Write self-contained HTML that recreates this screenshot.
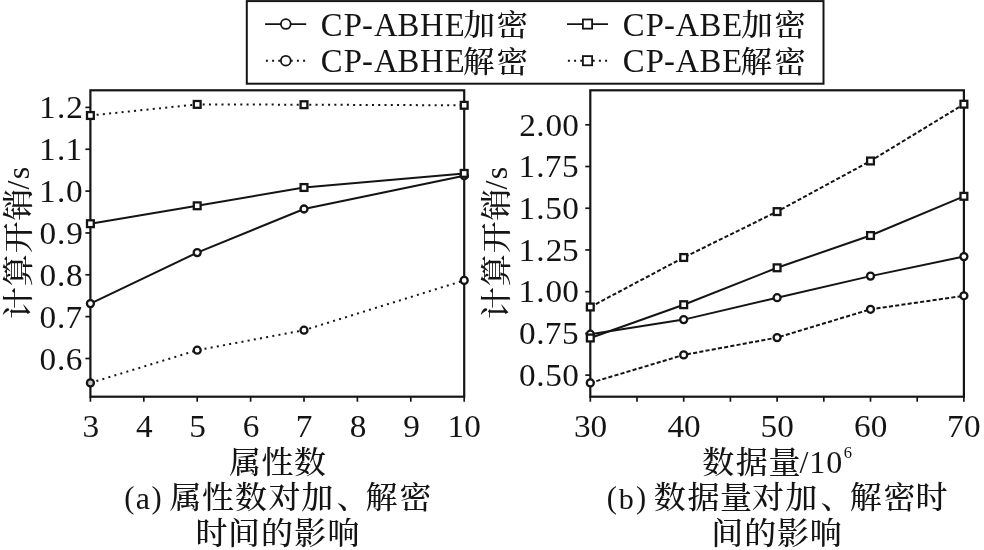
<!DOCTYPE html>
<html lang="zh-CN">
<head>
<meta charset="utf-8">
<title>计算开销</title>
<style>
html,body{margin:0;padding:0;background:#fff;}
body{width:984px;height:550px;overflow:hidden;}
svg{display:block;font-family:'Liberation Serif','Noto Serif CJK SC',serif;}
svg text{fill:#141414;stroke:none;font-weight:500;}
</style>
</head>
<body>
<svg width="984" height="550" viewBox="0 0 984 550" stroke="#141414" fill="#141414">
<rect x="0" y="0" width="984" height="550" fill="#fff" stroke="none"/>
<g id="legend">
<rect x="246.8" y="1.1" width="576.7" height="82.6" fill="#fff" stroke-width="2"/>
<line x1="265.1" y1="24.05" x2="306.2" y2="24.05" stroke-width="1.8"/>
<circle cx="285.8" cy="24.05" r="4.9" fill="#fff" stroke-width="1.8"/>
<g><text y="35.6"><tspan x="320.78 343.69 362.04 373.95 397.47 420 444.66" font-size="32.7">CP-ABHE</tspan></text><text transform="translate(0,35.3) scale(1.0,0.945)" y="0"><tspan x="463.53 496.47" font-size="31.6">加密</tspan></text></g>
<line x1="567" y1="24.05" x2="608" y2="24.05" stroke-width="1.8"/>
<rect x="582.9" y="19.45" width="9.2" height="9.2" fill="#fff" stroke-width="1.8"/>
<g><text y="35.6"><tspan x="622.83 645.69 664.09 675.45 699.47 722.31" font-size="32.7">CP-ABE</tspan></text><text transform="translate(0,35.3) scale(1.0,0.945)" y="0"><tspan x="741.18 774.37" font-size="31.6">加密</tspan></text></g>
<line x1="265.9" y1="60.7" x2="306" y2="60.7" stroke-width="2" stroke-dasharray="2 4.2"/>
<circle cx="285.8" cy="60.7" r="4.9" fill="#fff" stroke-width="1.8"/>
<g><text y="72"><tspan x="320.78 343.69 362.04 373.95 397.47 420 444.66" font-size="32.7">CP-ABHE</tspan></text><text transform="translate(0,71.8) scale(1.0,0.945)" y="0"><tspan x="462.88 496.47" font-size="31.6">解密</tspan></text></g>
<line x1="567.9" y1="60.7" x2="608" y2="60.7" stroke-width="2" stroke-dasharray="2 4.2"/>
<rect x="582.9" y="56.1" width="9.2" height="9.2" fill="#fff" stroke-width="1.8"/>
<g><text y="72"><tspan x="622.83 645.69 664.09 675.45 699.47 722.31" font-size="32.7">CP-ABE</tspan></text><text transform="translate(0,71.8) scale(1.0,0.945)" y="0"><tspan x="740.53 774.37" font-size="31.6">解密</tspan></text></g>
</g>
<g id="plotA">
<line x1="90.4" y1="396.7" x2="90.4" y2="401.7" stroke-width="1.7"/>
<line x1="143.8" y1="396.7" x2="143.8" y2="401.7" stroke-width="1.7"/>
<line x1="197.2" y1="396.7" x2="197.2" y2="401.7" stroke-width="1.7"/>
<line x1="250.6" y1="396.7" x2="250.6" y2="401.7" stroke-width="1.7"/>
<line x1="304" y1="396.7" x2="304" y2="401.7" stroke-width="1.7"/>
<line x1="357.4" y1="396.7" x2="357.4" y2="401.7" stroke-width="1.7"/>
<line x1="410.8" y1="396.7" x2="410.8" y2="401.7" stroke-width="1.7"/>
<line x1="464.2" y1="396.7" x2="464.2" y2="401.7" stroke-width="1.7"/>
<line x1="85.4" y1="107.4" x2="90.4" y2="107.4" stroke-width="1.7"/>
<line x1="85.4" y1="149.25" x2="90.4" y2="149.25" stroke-width="1.7"/>
<line x1="85.4" y1="191.1" x2="90.4" y2="191.1" stroke-width="1.7"/>
<line x1="85.4" y1="232.95" x2="90.4" y2="232.95" stroke-width="1.7"/>
<line x1="85.4" y1="274.8" x2="90.4" y2="274.8" stroke-width="1.7"/>
<line x1="85.4" y1="316.65" x2="90.4" y2="316.65" stroke-width="1.7"/>
<line x1="85.4" y1="358.5" x2="90.4" y2="358.5" stroke-width="1.7"/>
<rect x="90.4" y="90.3" width="373.8" height="306.4" fill="none" stroke-width="2.2"/>
<polyline points="90.4,382.9 197.2,350.2 304,330.2 464.2,280.4" fill="none" stroke-width="2" stroke-dasharray="2 4.27" stroke-dashoffset="0"/>
<circle cx="90.4" cy="382.9" r="3.5" fill="#c8c8c8" stroke-width="2.3"/>
<circle cx="197.2" cy="350.2" r="3.5" fill="#fff" stroke-width="2.3"/>
<circle cx="304" cy="330.2" r="3.5" fill="#fff" stroke-width="2.3"/>
<circle cx="464.2" cy="280.4" r="3.5" fill="#fff" stroke-width="2.3"/>
<polyline points="90.4,303.6 197.2,252.6 304,209 464.2,175.8" fill="none" stroke-width="2"/>
<circle cx="90.4" cy="303.6" r="3.5" fill="#fff" stroke-width="2.3"/>
<circle cx="197.2" cy="252.6" r="3.5" fill="#fff" stroke-width="2.3"/>
<circle cx="304" cy="209" r="3.5" fill="#fff" stroke-width="2.3"/>
<circle cx="464.2" cy="175.8" r="3.5" fill="#fff" stroke-width="2.3"/>
<polyline points="90.4,223.7 197.2,205.8 304,187.5 464.2,173.4" fill="none" stroke-width="2"/>
<rect x="87" y="220.3" width="6.8" height="6.8" fill="#fff" stroke-width="2.3"/>
<rect x="193.8" y="202.4" width="6.8" height="6.8" fill="#fff" stroke-width="2.3"/>
<rect x="300.6" y="184.1" width="6.8" height="6.8" fill="#fff" stroke-width="2.3"/>
<rect x="460.8" y="170" width="6.8" height="6.8" fill="#fff" stroke-width="2.3"/>
<polyline points="90.4,115.5 197.2,104.4 304,104.7 464.2,105.3" fill="none" stroke-width="2" stroke-dasharray="2 4.27" stroke-dashoffset="0"/>
<rect x="87" y="112.1" width="6.8" height="6.8" fill="#fff" stroke-width="2.3"/>
<rect x="193.8" y="101" width="6.8" height="6.8" fill="#fff" stroke-width="2.3"/>
<rect x="300.6" y="101.3" width="6.8" height="6.8" fill="#fff" stroke-width="2.3"/>
<rect x="460.8" y="101.9" width="6.8" height="6.8" fill="#fff" stroke-width="2.3"/>
<text transform="translate(0,118.4) scale(1.04,1.0)" y="0"><tspan x="37.61 54.75 63.72" font-size="32">1.2</tspan></text>
<text transform="translate(0,160.25) scale(1.04,1.0)" y="0"><tspan x="37.61 54.75 63.09" font-size="32">1.1</tspan></text>
<text transform="translate(0,202.1) scale(1.04,1.0)" y="0"><tspan x="37.61 54.75 63.54" font-size="32">1.0</tspan></text>
<text transform="translate(0,243.95) scale(1.04,1.0)" y="0"><tspan x="38.06 54.75 63.68" font-size="32">0.9</tspan></text>
<text transform="translate(0,285.8) scale(1.04,1.0)" y="0"><tspan x="38.06 54.75 63.54" font-size="32">0.8</tspan></text>
<text transform="translate(0,327.65) scale(1.04,1.0)" y="0"><tspan x="38.06 54.75 62.94" font-size="32">0.7</tspan></text>
<text transform="translate(0,369.5) scale(1.04,1.0)" y="0"><tspan x="38.06 54.75 63.33" font-size="32">0.6</tspan></text>
<text transform="translate(0,436.7) scale(1.04,1.0)" y="0"><tspan x="79.36" font-size="32">3</tspan></text>
<text transform="translate(0,436.7) scale(1.04,1.0)" y="0"><tspan x="130.78" font-size="32">4</tspan></text>
<text transform="translate(0,436.7) scale(1.04,1.0)" y="0"><tspan x="181.89" font-size="32">5</tspan></text>
<text transform="translate(0,436.7) scale(1.04,1.0)" y="0"><tspan x="233.33" font-size="32">6</tspan></text>
<text transform="translate(0,436.7) scale(1.04,1.0)" y="0"><tspan x="284.29" font-size="32">7</tspan></text>
<text transform="translate(0,436.7) scale(1.04,1.0)" y="0"><tspan x="336.23" font-size="32">8</tspan></text>
<text transform="translate(0,436.7) scale(1.04,1.0)" y="0"><tspan x="387.72" font-size="32">9</tspan></text>
<text transform="translate(0,436.7) scale(1.04,1.0)" y="0"><tspan x="430.3 446.52" font-size="32">10</tspan></text>
<text transform="translate(29,243) rotate(-90) scale(1,0.96)" y="0"><tspan x="-76 -43.15 -10.3 22.55" font-size="32">计算开销</tspan><tspan x="53.5 63.8" font-size="32">/s</tspan></text>
<text transform="translate(0,473) scale(1.0,0.975)" y="0"><tspan x="228.9 261.5 294.1" font-size="32">属性数</tspan></text>
<g><text y="508.8"><tspan x="124.24" dy="-1.2" font-size="30.5">(</tspan><tspan x="135.65" dy="1.2" font-size="32">a</tspan><tspan x="151.4" dy="-1.2" font-size="30.5">)</tspan></text><text transform="translate(0,508) scale(1.0,0.975)" y="0"><tspan x="169.4 202.1 235 268.6 301.2 336.4 365.5 399.4" font-size="32">属性数对加、解密</tspan></text></g>
<text transform="translate(0,543.8) scale(1.0,0.975)" y="0"><tspan x="195.6 227.9 261.1 294.3 327.5" font-size="32">时间的影响</tspan></text>
</g>
<g id="plotB">
<line x1="590.3" y1="396.7" x2="590.3" y2="401.7" stroke-width="1.7"/>
<line x1="637" y1="396.7" x2="637" y2="401.7" stroke-width="1.7"/>
<line x1="683.7" y1="396.7" x2="683.7" y2="401.7" stroke-width="1.7"/>
<line x1="730.4" y1="396.7" x2="730.4" y2="401.7" stroke-width="1.7"/>
<line x1="777.1" y1="396.7" x2="777.1" y2="401.7" stroke-width="1.7"/>
<line x1="823.8" y1="396.7" x2="823.8" y2="401.7" stroke-width="1.7"/>
<line x1="870.5" y1="396.7" x2="870.5" y2="401.7" stroke-width="1.7"/>
<line x1="917.2" y1="396.7" x2="917.2" y2="401.7" stroke-width="1.7"/>
<line x1="963.9" y1="396.7" x2="963.9" y2="401.7" stroke-width="1.7"/>
<line x1="585.3" y1="124.8" x2="590.3" y2="124.8" stroke-width="1.7"/>
<line x1="585.3" y1="166.52" x2="590.3" y2="166.52" stroke-width="1.7"/>
<line x1="585.3" y1="208.24" x2="590.3" y2="208.24" stroke-width="1.7"/>
<line x1="585.3" y1="249.96" x2="590.3" y2="249.96" stroke-width="1.7"/>
<line x1="585.3" y1="291.68" x2="590.3" y2="291.68" stroke-width="1.7"/>
<line x1="585.3" y1="333.4" x2="590.3" y2="333.4" stroke-width="1.7"/>
<line x1="585.3" y1="375.12" x2="590.3" y2="375.12" stroke-width="1.7"/>
<rect x="590.3" y="90.3" width="373.6" height="306.4" fill="none" stroke-width="2.2"/>
<polyline points="590.3,382.9 683.7,354.9 777.1,337.6 870.5,309.3 963.9,295.8" fill="none" stroke-width="2" stroke-dasharray="4.1 2.2" stroke-dashoffset="0"/>
<circle cx="590.3" cy="382.9" r="3.5" fill="#fff" stroke-width="2.3"/>
<circle cx="683.7" cy="354.9" r="3.5" fill="#fff" stroke-width="2.3"/>
<circle cx="777.1" cy="337.6" r="3.5" fill="#fff" stroke-width="2.3"/>
<circle cx="870.5" cy="309.3" r="3.5" fill="#fff" stroke-width="2.3"/>
<circle cx="963.9" cy="295.8" r="3.5" fill="#fff" stroke-width="2.3"/>
<polyline points="590.3,334.2 683.7,319.6 777.1,297.7 870.5,276.1 963.9,256.6" fill="none" stroke-width="2"/>
<circle cx="590.3" cy="334.2" r="3.5" fill="#fff" stroke-width="2.3"/>
<circle cx="683.7" cy="319.6" r="3.5" fill="#fff" stroke-width="2.3"/>
<circle cx="777.1" cy="297.7" r="3.5" fill="#fff" stroke-width="2.3"/>
<circle cx="870.5" cy="276.1" r="3.5" fill="#fff" stroke-width="2.3"/>
<circle cx="963.9" cy="256.6" r="3.5" fill="#fff" stroke-width="2.3"/>
<polyline points="590.3,338 683.7,304.7 777.1,267.8 870.5,235.5 963.9,196.3" fill="none" stroke-width="2"/>
<rect x="586.9" y="334.6" width="6.8" height="6.8" fill="#fff" stroke-width="2.3"/>
<rect x="680.3" y="301.3" width="6.8" height="6.8" fill="#fff" stroke-width="2.3"/>
<rect x="773.7" y="264.4" width="6.8" height="6.8" fill="#fff" stroke-width="2.3"/>
<rect x="867.1" y="232.1" width="6.8" height="6.8" fill="#fff" stroke-width="2.3"/>
<rect x="960.5" y="192.9" width="6.8" height="6.8" fill="#fff" stroke-width="2.3"/>
<polyline points="590.3,307 683.7,257.5 777.1,211.6 870.5,161 963.9,104.2" fill="none" stroke-width="2" stroke-dasharray="4.1 2.2" stroke-dashoffset="0"/>
<rect x="586.9" y="303.6" width="6.8" height="6.8" fill="#fff" stroke-width="2.3"/>
<rect x="680.3" y="254.1" width="6.8" height="6.8" fill="#fff" stroke-width="2.3"/>
<rect x="773.7" y="208.2" width="6.8" height="6.8" fill="#fff" stroke-width="2.3"/>
<rect x="867.1" y="157.6" width="6.8" height="6.8" fill="#fff" stroke-width="2.3"/>
<rect x="960.5" y="100.8" width="6.8" height="6.8" fill="#fff" stroke-width="2.3"/>
<text transform="translate(0,135.6) scale(1.04,1.0)" y="0"><tspan x="499.2 515.71 524.5 540.65" font-size="32">2.00</tspan></text>
<text transform="translate(0,177.32) scale(1.04,1.0)" y="0"><tspan x="498.57 515.71 523.91 540.35" font-size="32">1.75</tspan></text>
<text transform="translate(0,219.04) scale(1.04,1.0)" y="0"><tspan x="498.57 515.71 524.2 540.65" font-size="32">1.50</tspan></text>
<text transform="translate(0,260.76) scale(1.04,1.0)" y="0"><tspan x="498.57 515.71 524.68 540.35" font-size="32">1.25</tspan></text>
<text transform="translate(0,302.48) scale(1.04,1.0)" y="0"><tspan x="498.57 515.71 524.5 540.65" font-size="32">1.00</tspan></text>
<text transform="translate(0,344.2) scale(1.04,1.0)" y="0"><tspan x="499.02 515.71 523.91 540.35" font-size="32">0.75</tspan></text>
<text transform="translate(0,385.92) scale(1.04,1.0)" y="0"><tspan x="499.02 515.71 524.2 540.65" font-size="32">0.50</tspan></text>
<text transform="translate(0,436.7) scale(1.04,1.0)" y="0"><tspan x="551.86 567.77" font-size="32">30</tspan></text>
<text transform="translate(0,436.7) scale(1.04,1.0)" y="0"><tspan x="641.75 657.58" font-size="32">40</tspan></text>
<text transform="translate(0,436.7) scale(1.04,1.0)" y="0"><tspan x="731.31 747.38" font-size="32">50</tspan></text>
<text transform="translate(0,436.7) scale(1.04,1.0)" y="0"><tspan x="821.21 837.19" font-size="32">60</tspan></text>
<text transform="translate(0,436.7) scale(1.04,1.0)" y="0"><tspan x="910.64 927" font-size="32">70</tspan></text>
<text transform="translate(506.8,243) rotate(-90) scale(1,0.96)" y="0"><tspan x="-76 -43.15 -10.3 22.55" font-size="32">计算开销</tspan><tspan x="53.5 63.8" font-size="32">/s</tspan></text>
<g><text transform="translate(0,473) scale(1.0,0.975)" y="0"><tspan x="702.3 735.8 768.6" font-size="32">数据量</tspan></text><text y="473"><tspan x="799.5 809.2 826.2" font-size="32">/10</tspan><tspan x="843.8" dy="-15.3" font-size="16.5">6</tspan></text></g>
<g><text y="508.8"><tspan x="606.84" dy="-1.2" font-size="30.5">(</tspan><tspan x="618.77" dy="1.2" font-size="30">b</tspan><tspan x="636.05" dy="-1.2" font-size="30.5">)</tspan></text><text transform="translate(0,507.9) scale(1.0,0.975)" y="0"><tspan x="653.7 687.4 720 751.9 785.3 820.45 849.7 883.6 915.6" font-size="32">数据量对加、解密时</tspan></text></g>
<text transform="translate(0,543.8) scale(1.0,0.975)" y="0"><tspan x="711.3 744.15 777 809.85" font-size="32">间的影响</tspan></text>
</g>
</svg>
</body>
</html>
